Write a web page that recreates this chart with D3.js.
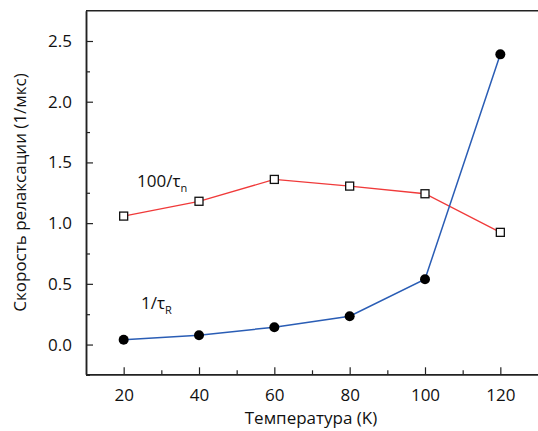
<!DOCTYPE html>
<html>
<head>
<meta charset="utf-8">
<script src="https://cdn.jsdelivr.net/npm/d3@7"></script>
<style>
  body { margin: 0; background: #fff; }
  svg text { font-family: "Open Sans", "Noto Sans", sans-serif; fill: #111; }
</style>
</head>
<body>
<svg id="chart" width="538" height="431"></svg>
<script>
// data
const temps = [20, 40, 60, 80, 100, 120];
const rateN = [1.058, 1.18, 1.36, 1.305, 1.242, 0.924];   // 100/tau_n
const rateR = [0.039, 0.077, 0.143, 0.233, 0.538, 2.39];  // 1/tau_R
const xTicks = [20, 40, 60, 80, 100, 120];
const yTicks = [0, 0.5, 1.0, 1.5, 2.0, 2.5];

const svg = d3.select("#chart");
const plotL = 86, plotR = 538, plotT = 10.7, plotB = 374.3;

const x = d3.scaleLinear().domain([10, 130]).range([plotL, plotR]);
const y = d3.scaleLinear().domain([-0.245, 2.7495]).range([plotB, plotT]);

// axes (ticks inward)
const xAxis = d3.axisBottom(x).tickValues(xTicks).tickSizeInner(-7).tickSizeOuter(0).tickPadding(15);
const xMinor = d3.axisBottom(x).tickValues(d3.range(30, 130, 20)).tickSizeInner(-4).tickSizeOuter(0).tickFormat("");
const yAxis = d3.axisLeft(y).tickValues(yTicks).tickSizeInner(-7).tickSizeOuter(0).tickPadding(14).tickFormat(d3.format(".1f"));
const yMinor = d3.axisLeft(y).tickValues([-0.25, 0.25, 0.75, 1.25, 1.75, 2.25]).tickSizeInner(-4).tickSizeOuter(0).tickFormat("");

function style(g) {
  g.select(".domain").attr("stroke", "#222").attr("stroke-width", 1.5);
  g.selectAll(".tick line").attr("stroke", "#222").attr("stroke-width", 1.2);
  g.selectAll(".tick text").attr("font-size", 17).attr("fill", "#111")
    .attr("font-family", "'Open Sans', 'Noto Sans', sans-serif");
}

svg.append("g").attr("transform", `translate(0,${plotB})`).call(xMinor).call(style);
svg.append("g").attr("transform", `translate(0,${plotB})`).call(xAxis).call(style);
svg.append("g").attr("transform", `translate(${plotL},0)`).call(yMinor).call(style);
svg.append("g").attr("transform", `translate(${plotL},0)`).call(yAxis).call(style);

// top border
svg.append("line")
  .attr("x1", plotL).attr("x2", plotR).attr("y1", plotT).attr("y2", plotT)
  .attr("stroke", "#222").attr("stroke-width", 1.5);

// lines
const line = d3.line().x(d => x(d[0])).y(d => y(d[1]));
const ptsN = temps.map((t, i) => [t, rateN[i]]);
const ptsR = temps.map((t, i) => [t, rateR[i]]);

svg.append("path").attr("d", line(ptsN)).attr("fill", "none")
  .attr("stroke", "#f03a3a").attr("stroke-width", 1.3);
svg.append("path").attr("d", line(ptsR)).attr("fill", "none")
  .attr("stroke", "#2a5db5").attr("stroke-width", 1.5);

svg.selectAll("rect.n").data(ptsN).enter().append("rect")
  .attr("class", "n")
  .attr("x", d => x(d[0]) - 4).attr("y", d => y(d[1]) - 4)
  .attr("width", 8).attr("height", 8)
  .attr("fill", "#fff").attr("stroke", "#111").attr("stroke-width", 1.3);

svg.selectAll("circle.r").data(ptsR).enter().append("circle")
  .attr("class", "r")
  .attr("cx", d => x(d[0])).attr("cy", d => y(d[1])).attr("r", 5)
  .attr("fill", "#000");

// series labels
const labN = svg.append("text").attr("x", 137).attr("y", 187).attr("font-size", 17);
labN.append("tspan").text("100/τ");
labN.append("tspan").attr("font-size", 11).attr("dy", 5).text("n");

const labR = svg.append("text").attr("x", 141).attr("y", 309).attr("font-size", 17);
labR.append("tspan").text("1/τ");
labR.append("tspan").attr("font-size", 11).attr("dy", 5).text("R");

// axis titles
svg.append("text")
  .attr("x", 311).attr("y", 424).attr("text-anchor", "middle").attr("font-size", 17)
  .text("Температура (K)");

svg.append("text")
  .attr("transform", `translate(26,${(plotT + plotB) / 2}) rotate(-90)`)
  .attr("text-anchor", "middle").attr("font-size", 17)
  .text("Скорость релаксации (1/мкс)");
</script>
</body>
</html>
